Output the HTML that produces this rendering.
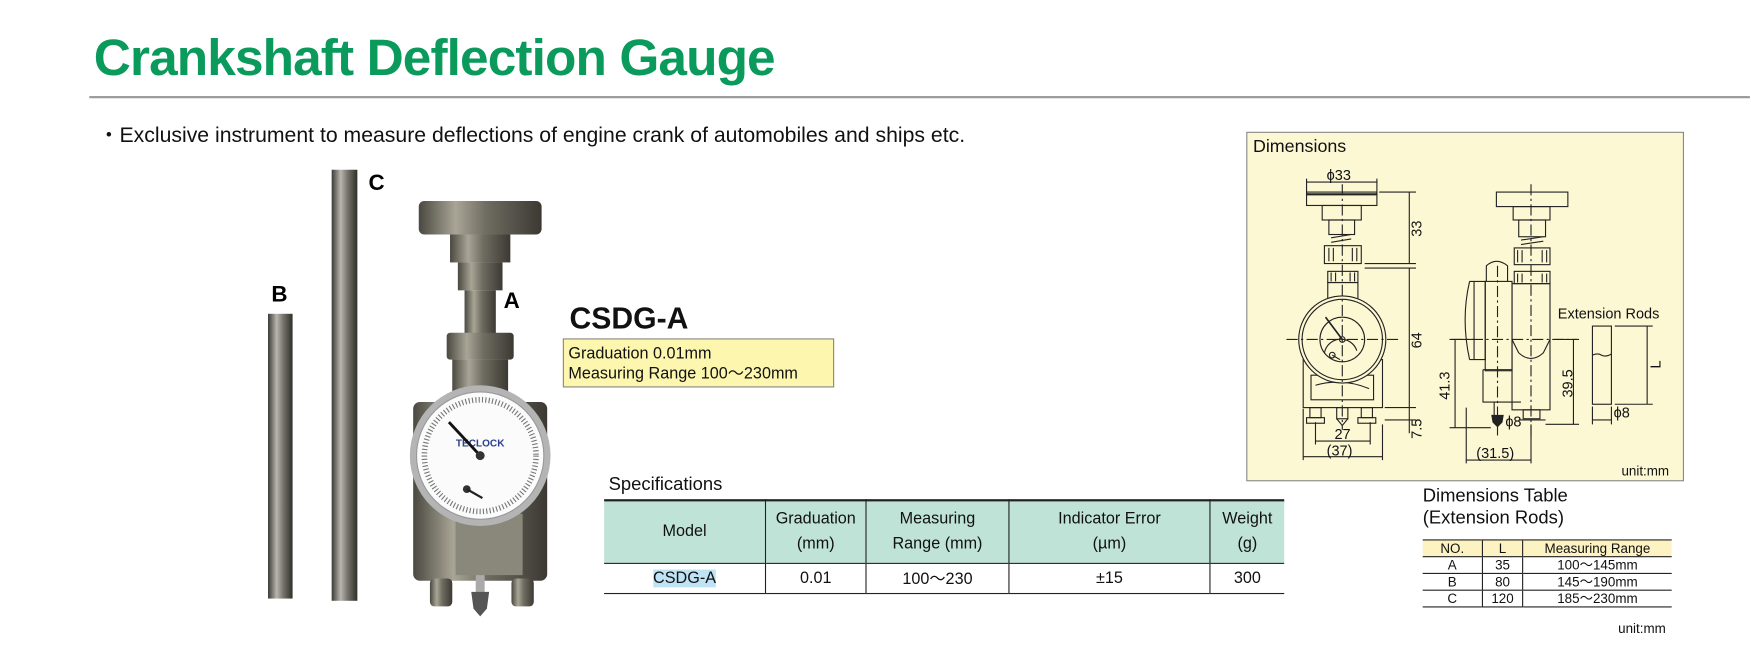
<!DOCTYPE html>
<html><head><meta charset="utf-8"><style>
html,body{margin:0;padding:0;background:#fff;width:1751px;height:665px;overflow:hidden}
#w{position:absolute;left:0;top:0;width:1568px;height:596px;transform:scale(1.11671);transform-origin:0 0;font-family:"Liberation Sans",sans-serif;color:#111}
.a{position:absolute;white-space:nowrap}
table{border-collapse:collapse}
</style></head><body><div id="w">
<div class="a" style="left:84px;top:24px;font-size:46px;font-weight:bold;color:#0a9a5c;letter-spacing:-0.8px">Crankshaft Deflection Gauge</div>
<div class="a" style="left:80px;top:86px;width:1487px;height:2px;background:#9a9a9a"></div>
<div class="a" style="left:88px;top:106px;font-size:19px">・Exclusive instrument to measure deflections of engine crank of automobiles and ships etc.</div>

<svg class="a" style="left:0;top:0" width="1568" height="596">
<defs>
<linearGradient id="rod" x1="0" x2="1"><stop offset="0" stop-color="#3a3a36"/><stop offset=".35" stop-color="#b8b6ae"/><stop offset=".6" stop-color="#7a786f"/><stop offset="1" stop-color="#2e2e2a"/></linearGradient>
<linearGradient id="met" x1="0" x2="1"><stop offset="0" stop-color="#4a4840"/><stop offset=".3" stop-color="#a9a596"/><stop offset=".55" stop-color="#6f6c61"/><stop offset="1" stop-color="#3b3932"/></linearGradient>
</defs>
<rect x="297" y="152" width="23" height="386" fill="url(#rod)"/>
<rect x="240" y="281" width="22" height="255" fill="url(#rod)"/>
<text x="330" y="170" font-size="20" font-weight="bold">C</text>
<text x="243" y="270" font-size="20" font-weight="bold">B</text>
<text x="451" y="276" font-size="20" font-weight="bold">A</text>
<rect x="375" y="180" width="110" height="30" rx="5" fill="url(#met)"/>
<rect x="403" y="210" width="54" height="25" fill="url(#met)"/>
<rect x="410" y="235" width="40" height="25" fill="url(#met)"/>
<rect x="416" y="260" width="28" height="40" fill="url(#met)"/>
<rect x="400" y="298" width="60" height="24" rx="3" fill="url(#met)"/>
<rect x="405" y="322" width="50" height="30" fill="url(#met)"/>
<rect x="370" y="360" width="120" height="160" rx="6" fill="url(#met)"/>
<rect x="408" y="460" width="60" height="55" fill="#8a877b"/>
<circle cx="430" cy="408" r="63" fill="#b4b4b4"/>
<circle cx="430" cy="408" r="57" fill="#fbfbfb" stroke="#999"/>
<circle cx="430" cy="408" r="50" fill="none" stroke="#777" stroke-width="5" stroke-dasharray="1 2"/>
<text x="430" y="400" font-size="9" fill="#2a3f8f" font-weight="bold" text-anchor="middle">TECLOCK</text>
<line x1="430" y1="408" x2="402" y2="378" stroke="#111" stroke-width="2.5"/>
<circle cx="430" cy="408" r="4" fill="#333"/>
<circle cx="418" cy="438" r="3.5" fill="#333"/><line x1="418" y1="438" x2="432" y2="446" stroke="#222" stroke-width="2"/>
<rect x="385" y="518" width="20" height="25" rx="4" fill="url(#met)"/>
<rect x="458" y="518" width="20" height="25" rx="4" fill="url(#met)"/>
<rect x="426" y="515" width="8" height="25" fill="#aaa"/>
<path d="M422 530 L438 530 L436 545 L430 552 L424 545Z" fill="#555"/>

<rect x="1116.5" y="118.5" width="391" height="312" fill="#fdf8d4" stroke="#888"/>
<g fill="none" stroke="#222" stroke-width="1">
<rect x="1170" y="172" width="63" height="12"/><line x1="1170" y1="174" x2="1233" y2="174" stroke-width="2"/>
<rect x="1184" y="184" width="35" height="13"/><rect x="1190" y="197" width="23" height="13"/>
<path d="M1192 213 l18 -3 M1192 217 l18 -3"/>
<rect x="1186" y="220" width="33" height="16"/><rect x="1189" y="243" width="27" height="10"/>
<path d="M1190 222 v12 M1194 222 v12 M1211 222 v12 M1215 222 v12 M1192 244 v8 M1196 244 v8 M1209 244 v8 M1213 244 v8"/>
<rect x="1189" y="253" width="27" height="16"/>
<rect x="1167" y="322" width="71" height="43"/>
<rect x="1174" y="336" width="56" height="22"/>
<path d="M1178 345 Q1202 338 1226 348"/>
<circle cx="1202" cy="304" r="39" fill="#fdf8d4"/><circle cx="1202" cy="304" r="36"/><circle cx="1202" cy="304" r="20"/>
<path d="M1186 316 A 15 15 0 0 1 1215 314"/>
<line x1="1202" y1="304" x2="1187" y2="284" stroke-width="1.5"/><circle cx="1202" cy="304" r="2.5"/>
<circle cx="1193" cy="318" r="2.5"/><line x1="1193" y1="318" x2="1200" y2="322"/>
<rect x="1173" y="365" width="10" height="9"/><rect x="1170" y="374" width="16" height="5"/>
<rect x="1219" y="365" width="10" height="9"/><rect x="1216" y="374" width="16" height="5"/>
<rect x="1197" y="365" width="10" height="10"/><path d="M1197 375 L1202 381 L1207 375"/>
<path d="M1202 165 V385 M1152 304 H1255" stroke-dasharray="10 3 2 3"/>
<path d="M1170 175 V160 M1233 175 V160 M1170 163 H1233 M1235 172 H1268 M1222 236 H1268 M1222 240 H1268 M1262 172 V236 M1262 240 V365 M1240 365 H1268 M1240 376 H1268 M1262 365 V388"/>
<path d="M1178 378 V398 M1227 378 V398 M1178 395 H1227 M1167 366 V412 M1238 380 V412 M1167 409 H1238"/>
<rect x="1340" y="172" width="64" height="13"/><rect x="1355" y="185" width="33" height="12"/><rect x="1360" y="197" width="24" height="15"/>
<path d="M1362 215 l20 -3 M1362 219 l20 -3"/>
<rect x="1356" y="222" width="32" height="15"/><rect x="1356" y="243" width="32" height="11"/>
<path d="M1359 224 v11 M1363 224 v11 M1381 224 v11 M1385 224 v11 M1359 245 v8 M1363 245 v8 M1381 245 v8 M1385 245 v8"/>
<rect x="1354" y="254" width="34" height="113"/>
<path d="M1354 304 L1360 316 Q1371 326 1382 316 L1388 304"/>
<path d="M1316 252 Q1308 286 1316 322 M1316 252 H1330 V322 H1316"/>
<path d="M1320 252 V322"/>
<rect x="1330" y="252" width="24" height="80"/>
<path d="M1331 252 V238 Q1340 230 1350 238 V252"/>
<path d="M1328 331 H1354 M1328 331 V360 H1362"/>
<rect x="1364" y="367" width="15" height="8"/><path d="M1360 376 H1384"/>
<path d="M1338 360 V372"/><path d="M1336 372 H1346 L1345 378 L1341 382 L1337 378Z" fill="#222"/>
<path d="M1341 238 V390 M1371 165 V392 M1300 304 H1412" stroke-dasharray="10 3 2 3"/>
<path d="M1298 304 H1320 M1303 304 V383 M1298 383 H1335 M1392 304 H1414 M1409 304 V380 M1384 380 H1414 M1313 365 V415 M1371 380 V415 M1313 412 H1371"/>
<rect x="1426" y="292" width="17" height="70"/>
<path d="M1426 318 q5 -2 8 0 q4 2 9 -1"/>
<path d="M1446 292 H1480 M1446 362 H1480 M1475 292 V362 M1426 364 V380 M1443 364 V380 M1426 376 H1443"/>
</g>
<g font-size="13" fill="#111">
<text x="1122" y="136" font-size="16">Dimensions</text>
<text x="1188" y="161">ϕ33</text>
<text transform="translate(1273 212) rotate(-90)">33</text>
<text transform="translate(1273 312) rotate(-90)">64</text>
<text transform="translate(1273 393) rotate(-90)">7.5</text>
<text x="1195" y="393">27</text>
<text x="1188" y="408">(37)</text>
<text transform="translate(1298 358) rotate(-90)">41.3</text>
<text transform="translate(1408 356) rotate(-90)">39.5</text>
<text x="1348" y="382">ϕ8</text>
<text x="1322" y="410">(31.5)</text>
<text x="1395" y="285">Extension Rods</text>
<text transform="translate(1487 330) rotate(-90)">L</text>
<text x="1445" y="374">ϕ8</text>
<text x="1452" y="426" font-size="12">unit:mm</text>
</g>
</svg>

<div class="a" style="left:510px;top:270px;font-size:27px;font-weight:bold">CSDG-A</div>
<div class="a" style="left:504px;top:303px;width:243px;height:44px;background:#fdf6ae;border:1px solid #888;box-sizing:border-box;font-size:14.5px;line-height:18px;padding:4px 0 0 4px">Graduation 0.01mm<br>Measuring Range 100～230mm</div>

<div class="a" style="left:545px;top:425px;font-size:16.5px">Specifications</div>
<table class="a" style="left:541px;top:447px;width:609px;font-size:14.5px;text-align:center">
<tr style="background:#bfe3d7;height:56px;border-top:2px solid #222;border-bottom:1px solid #222"><td style="width:142px;border-right:1px solid #222">Model</td><td style="width:87px;border-right:1px solid #222;line-height:22px">Graduation<br>(mm)</td><td style="width:125px;border-right:1px solid #222;line-height:22px">Measuring<br>Range (mm)</td><td style="width:177px;border-right:1px solid #222;line-height:22px">Indicator Error<br>(µm)</td><td style="line-height:22px">Weight<br>(g)</td></tr>
<tr style="height:27px;border-bottom:1px solid #222"><td style="border-right:1px solid #222"><span style="background:#bfe3f5">CSDG-A</span></td><td style="border-right:1px solid #222">0.01</td><td style="border-right:1px solid #222">100～230</td><td style="border-right:1px solid #222">±15</td><td>300</td></tr>
</table>

<div class="a" style="left:1274px;top:434px;font-size:16.5px;line-height:20px">Dimensions Table<br>(Extension Rods)</div>
<table class="a" style="left:1274px;top:483px;width:223px;font-size:12px;text-align:center;line-height:12px">
<tr style="background:#fdf3c2;border-top:1px solid #222;border-bottom:1px solid #222"><td style="width:53px;border-right:1px solid #222;padding:1px 0">NO.</td><td style="width:33px;border-right:1px solid #222">L</td><td>Measuring Range</td></tr>
<tr style="border-bottom:1px solid #222"><td style="border-right:1px solid #222;padding:1px 0">A</td><td style="border-right:1px solid #222">35</td><td>100～145mm</td></tr>
<tr style="border-bottom:1px solid #222"><td style="border-right:1px solid #222;padding:1px 0">B</td><td style="border-right:1px solid #222">80</td><td>145～190mm</td></tr>
<tr style="border-bottom:1px solid #222"><td style="border-right:1px solid #222;padding:1px 0">C</td><td style="border-right:1px solid #222">120</td><td>185～230mm</td></tr>
</table>
<div class="a" style="left:1449px;top:556px;font-size:12px">unit:mm</div>
</div></body></html>
